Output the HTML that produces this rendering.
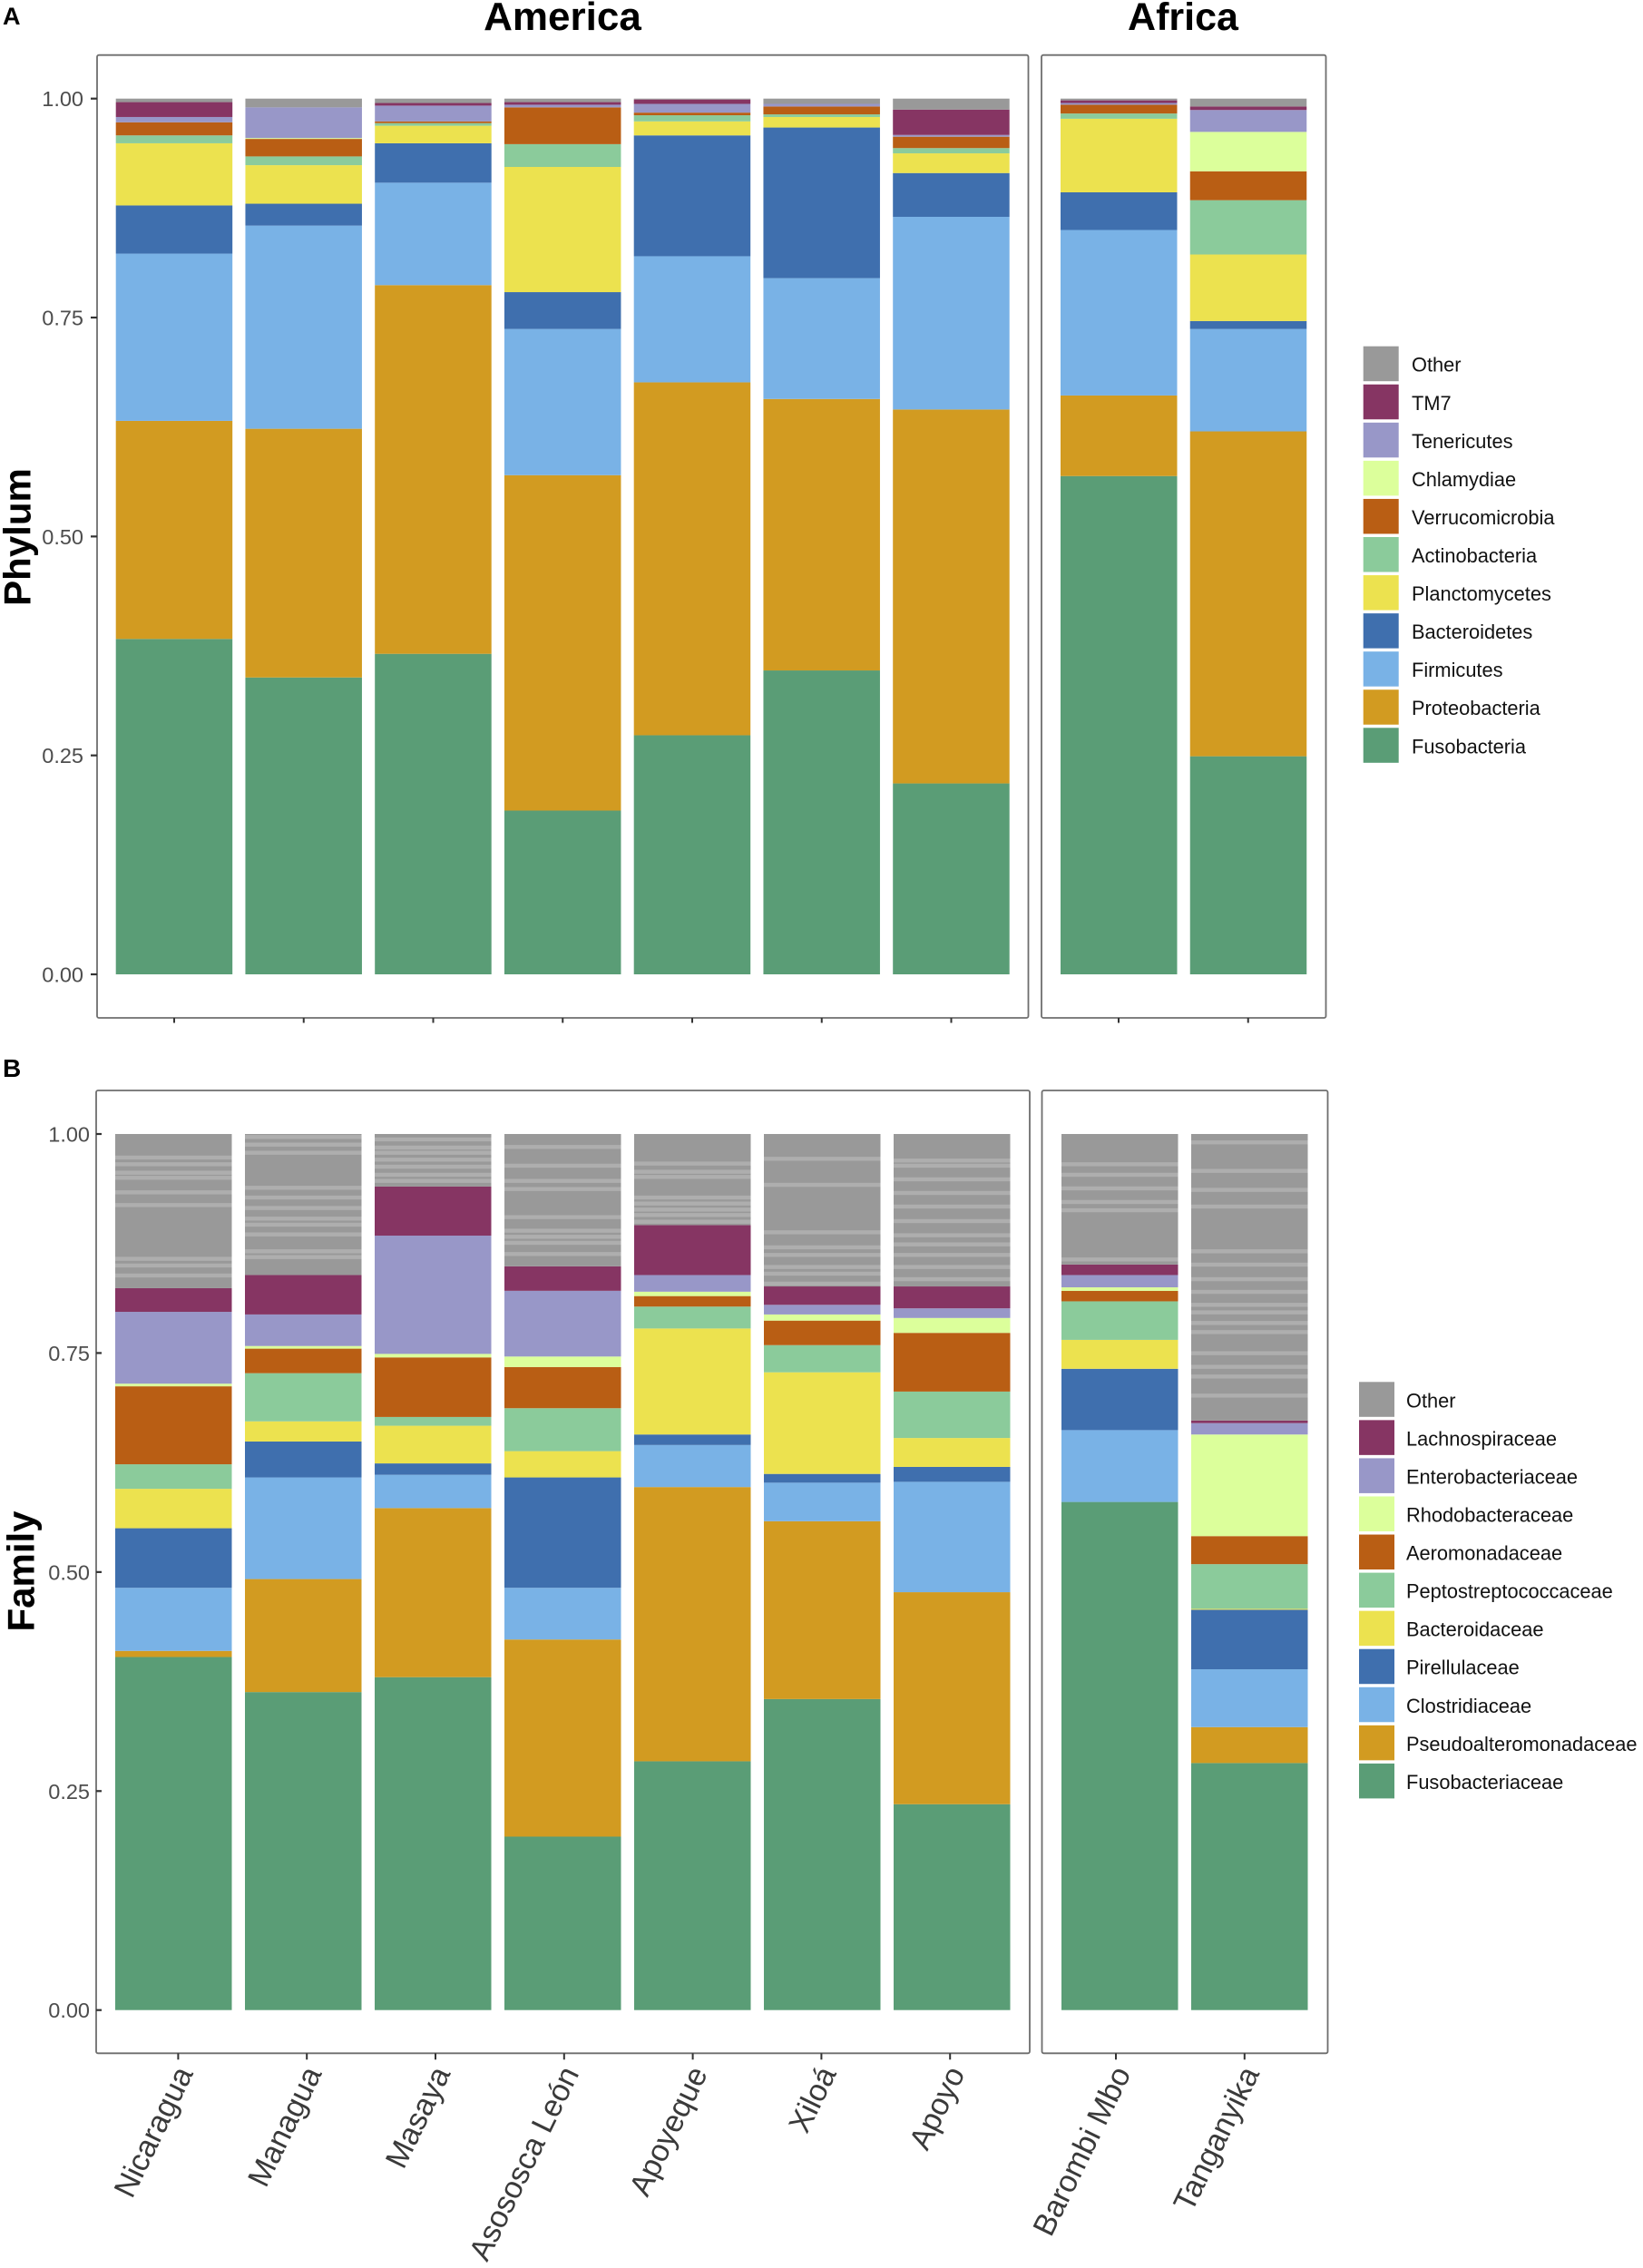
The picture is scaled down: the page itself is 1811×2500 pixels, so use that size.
<!DOCTYPE html>
<html lang="en">
<head>
<meta charset="utf-8">
<title>Microbiome composition by lake: phylum and family</title>
<style>
html,body{margin:0;padding:0;background:#fff;}
svg{display:block;font-family:"Liberation Sans",Arial,sans-serif;}
</style>
</head>
<body>
<svg id="chart" xmlns="http://www.w3.org/2000/svg" width="1811" height="2500" viewBox="0 0 1811 2500">
  <rect x="0" y="0" width="1811" height="2500" fill="#ffffff"/>
  <text x="3" y="27" font-size="27" font-weight="700" fill="#000">A</text>
  <text x="3" y="1187" font-size="28" font-weight="700" fill="#000">B</text>
  <text x="620" y="33" text-anchor="middle" font-size="44" font-weight="700" fill="#000">America</text>
  <text x="1304" y="33" text-anchor="middle" font-size="43" font-weight="700" fill="#000">Africa</text>
  <text transform="translate(33.5,592) rotate(-90)" text-anchor="middle" font-size="42" font-weight="700" fill="#000">Phylum</text>
  <text transform="translate(37.5,1732) rotate(-90)" text-anchor="middle" font-size="42" font-weight="700" fill="#000">Family</text>
</svg>
<script>
// ---- categories and ticks ----
const lakes = ["Nicaragua","Managua","Masaya","Asososca León","Apoyeque","Xiloá","Apoyo","Barombi Mbo","Tanganyika"];
const yTickValues = [0, 0.25, 0.5, 0.75, 1];
const yTickLabels = ["0.00","0.25","0.50","0.75","1.00"];

// ---- phylum relative abundance (one value per lake) ----
const phylumNames = ["Fusobacteria","Proteobacteria","Firmicutes","Bacteroidetes","Planctomycetes","Actinobacteria","Verrucomicrobia","Chlamydiae","Tenericutes","TM7","Other"];
const phylumFusobacteria    = [0.383,0.339,0.366,0.187,0.273,0.347,0.218,0.569,0.249];
const phylumProteobacteria  = [0.249,0.284,0.421,0.383,0.403,0.310,0.427,0.092,0.371];
const phylumFirmicutes      = [0.191,0.232,0.117,0.167,0.144,0.138,0.220,0.189,0.117];
const phylumBacteroidetes   = [0.055,0.025,0.045,0.042,0.138,0.172,0.050,0.043,0.009];
const phylumPlanctomycetes  = [0.071,0.044,0.020,0.143,0.016,0.012,0.0225,0.084,0.076];
const phylumActinobacteria  = [0.009,0.010,0.003,0.026,0.007,0.003,0.006,0.006,0.062];
const phylumVerrucomicrobia = [0.015,0.020,0.002,0.042,0.003,0.009,0.013,0.010,0.033];
const phylumChlamydiae      = [0,0.001,0,0,0,0,0,0,0.045];
const phylumTenericutes     = [0.006,0.035,0.018,0.003,0.010,0.003,0.002,0.002,0.025];
const phylumTM7             = [0.017,0,0.003,0.003,0.005,0,0.029,0.003,0.004];
const phylumOther           = [0.004,0.010,0.005,0.004,0.001,0.006,0.0125,0.002,0.009];

// ---- family relative abundance (one value per lake) ----
const familyNames = ["Fusobacteriaceae","Pseudoalteromonadaceae","Clostridiaceae","Pirellulaceae","Bacteroidaceae","Peptostreptococcaceae","Aeromonadaceae","Rhodobacteraceae","Enterobacteriaceae","Lachnospiraceae","Other"];
const familyFusobacteriaceae       = [0.403,0.363,0.380,0.198,0.284,0.355,0.235,0.580,0.282];
const familyPseudoalteromonadaceae = [0.007,0.129,0.193,0.225,0.313,0.203,0.242,0,0.041];
const familyClostridiaceae         = [0.072,0.116,0.038,0.059,0.048,0.044,0.126,0.082,0.066];
const familyPirellulaceae          = [0.068,0.041,0.013,0.126,0.012,0.010,0.017,0.070,0.068];
const familyBacteroidaceae         = [0.045,0.023,0.043,0.030,0.121,0.116,0.033,0.033,0.001];
const familyPeptostreptococcaceae  = [0.028,0.055,0.010,0.049,0.025,0.031,0.053,0.044,0.051];
const familyAeromonadaceae         = [0.089,0.028,0.068,0.047,0.012,0.028,0.067,0.012,0.032];
const familyRhodobacteraceae       = [0.003,0.003,0.004,0.012,0.005,0.007,0.017,0.004,0.116];
const familyEnterobacteriaceae     = [0.082,0.036,0.135,0.075,0.019,0.011,0.011,0.014,0.013];
const familyLachnospiraceae        = [0.027,0.045,0.056,0.028,0.057,0.021,0.025,0.012,0.003];
const familyOther                  = [0.176,0.161,0.060,0.151,0.104,0.174,0.174,0.149,0.327];

// ---- cumulative levels of the pale boundaries inside each "Other" family stack ----
const otherBoundsNicaragua  = [0.9731,0.9655,0.9558,0.9500,0.9334,0.9189,0.8575,0.8499,0.8385];
const otherBoundsManagua    = [0.9966,0.9879,0.9786,0.9386,0.9275,0.9155,0.9034,0.8965,0.8854,0.8661,0.8595];
const otherBoundsMasaya     = [0.9938,0.9845,0.9786,0.9707,0.9627,0.9534,0.9465];
const otherBoundsAsososca   = [0.9852,0.9638,0.9465,0.9372,0.9051,0.8896,0.8827,0.8758,0.8630];
const otherBoundsApoyeque   = [0.9662,0.9569,0.9510,0.9275,0.9206,0.9137,0.9075,0.8999];
const otherBoundsXiloa      = [0.9717,0.9420,0.8878,0.8706,0.8620,0.8482,0.8406,0.8292];
const otherBoundsApoyo      = [0.9697,0.9638,0.9483,0.9327,0.9172,0.9006,0.8844,0.8740,0.8620,0.8482,0.8343];
const otherBoundsBarombi    = [0.9655,0.9534,0.9379,0.9224,0.9130,0.8568];
const otherBoundsTanganyika = [0.9904,0.9579,0.9362,0.9172,0.8661,0.8509,0.8343,0.8198,0.8050,0.7964,0.7843,0.7739,0.7498,0.7342,0.7232,0.7014];

const phylumSeries = [phylumFusobacteria,phylumProteobacteria,phylumFirmicutes,phylumBacteroidetes,phylumPlanctomycetes,phylumActinobacteria,phylumVerrucomicrobia,phylumChlamydiae,phylumTenericutes,phylumTM7,phylumOther];
const familySeries = [familyFusobacteriaceae,familyPseudoalteromonadaceae,familyClostridiaceae,familyPirellulaceae,familyBacteroidaceae,familyPeptostreptococcaceae,familyAeromonadaceae,familyRhodobacteraceae,familyEnterobacteriaceae,familyLachnospiraceae,familyOther];
const otherBounds = [otherBoundsNicaragua,otherBoundsManagua,otherBoundsMasaya,otherBoundsAsososca,otherBoundsApoyeque,otherBoundsXiloa,otherBoundsApoyo,otherBoundsBarombi,otherBoundsTanganyika];
const seriesColors = ["#5a9d76","#d29b21","#79b2e6","#3f6fae","#ece24f","#8bcb9b","#b95e14","#dcff9b","#9897c8","#863563","#999999"];

const svg = document.getElementById('chart');
const NS = 'http://www.w3.org/2000/svg';
function slug(s){ return s.normalize('NFD').replace(/[\u0300-\u036f]/g,'').toLowerCase().replace(/[^a-z0-9]+/g,'-'); }
function make(tag, attrs, parent){
  const e = document.createElementNS(NS, tag);
  for (const k in attrs) e.setAttribute(k, attrs[k]);
  (parent || svg).appendChild(e);
  return e;
}

function drawPanel(cfg){
  const yScale = v => cfg.y0 + (cfg.y1 - cfg.y0) * v;
  const barLeft = i => i < 7 ? cfg.amStart + cfg.pitch * i : cfg.afStart + cfg.pitch * (i - 7);
  const tickX = i => i < 7 ? cfg.tickAm + cfg.tickPitch * i : cfg.tickAf + cfg.tickPitch * (i - 7);

  const group = make('g', {});
  
  

  // bars
  lakes.forEach((lake, i) => {
    let cum = 0;
    cfg.series.forEach((vals, s) => {
      const v = vals[i];
      const top = yScale(cum + v), bottom = yScale(cum);
      if (v > 0) {
        const r = make('rect', {x: barLeft(i), y: top, width: cfg.barW, height: bottom - top, fill: seriesColors[s]}, group);
        
        
      }
      cum += v;
    });
    if (cfg.bounds) {
      const otherVal = cfg.series[cfg.series.length - 1][i];
      const otherBase = cum - otherVal;
      cfg.bounds[i].forEach(level => {
        if (level <= otherBase || level >= cum) return;
        const st = make('rect', {x: barLeft(i), y: yScale(level) - 2.2, width: cfg.barW, height: 4.4, fill: '#aeaeae'}, group);
        
        
      });
    }
  });

  // panel frames
  cfg.frames.forEach((f, k) => {
    const fr = make('rect', {x: f[0], y: cfg.top, width: f[1] - f[0], height: cfg.bottom - cfg.top, rx: 2, fill: 'none', stroke: '#6e6e6e', 'stroke-width': 1.8}, group);
    
    
  });

  // y axis
  yTickValues.forEach((v, i) => {
    const y = yScale(v);
    const t = make('line', {x1: cfg.yTick[0], x2: cfg.yTick[1], y1: y, y2: y, stroke: '#333', 'stroke-width': 2.2}, group);
    
    
    const l = make('text', {x: cfg.yLabelX, y: y + 8.5, 'text-anchor': 'end', 'font-size': 23.5, fill: '#4d4d4d'}, group);
    
    
    l.textContent = yTickLabels[i];
  });

  // x axis
  lakes.forEach((lake, i) => {
    const x = tickX(i);
    const t = make('line', {x1: x, x2: x, y1: cfg.bottom, y2: cfg.bottom + cfg.xTickLen, stroke: '#333', 'stroke-width': 2}, group);
    
    
    if (cfg.showLabels) {
      const l = make('text', {transform: 'translate(' + (x + 17) + ',' + (cfg.bottom + 22) + ') rotate(-64)', 'text-anchor': 'end', 'font-size': 34, fill: '#3a3a3a'}, group);
      
      
      l.textContent = lake;
    }
  });

  // legend (top to bottom: reverse stack order)
  const n = cfg.names.length;
  cfg.names.slice().reverse().forEach((nm, k) => {
    const color = seriesColors[n - 1 - k];
    const ly = cfg.legend.y + 42.06 * k;
    const sw = make('rect', {x: cfg.legend.x, y: ly, width: 39, height: 38.5, fill: color}, group);
    
    
    const tx = make('text', {x: cfg.legend.textX, y: ly + 28, 'font-size': 21.8, fill: '#111'}, group);
    
    
    tx.textContent = nm;
  });
}

drawPanel({
  name: 'phylum', series: phylumSeries, names: phylumNames, bounds: null,
  y0: 1074, y1: 108.7, top: 60.7, bottom: 1122,
  amStart: 127.7, afStart: 1169, pitch: 142.75, barW: 128.5,
  tickAm: 192, tickAf: 1233, tickPitch: 142.75,
  frames: [[107, 1133.5], [1148, 1461.5]],
  yTick: [100, 107], yLabelX: 92, xTickLen: 5.5, showLabels: false,
  legend: {x: 1502.7, y: 381.7, textX: 1556}
});
drawPanel({
  name: 'family', series: familySeries, names: familyNames, bounds: otherBounds,
  y0: 2215.7, y1: 1250, top: 1202, bottom: 2263.3,
  amStart: 127, afStart: 1170, pitch: 143, barW: 128.5,
  tickAm: 196.4, tickAf: 1230, tickPitch: 141.8,
  frames: [[106, 1135], [1148.5, 1463.5]],
  yTick: [106, 112], yLabelX: 99, xTickLen: 7, showLabels: true,
  legend: {x: 1498, y: 1523.3, textX: 1550}
});
</script>
</body>
</html>
